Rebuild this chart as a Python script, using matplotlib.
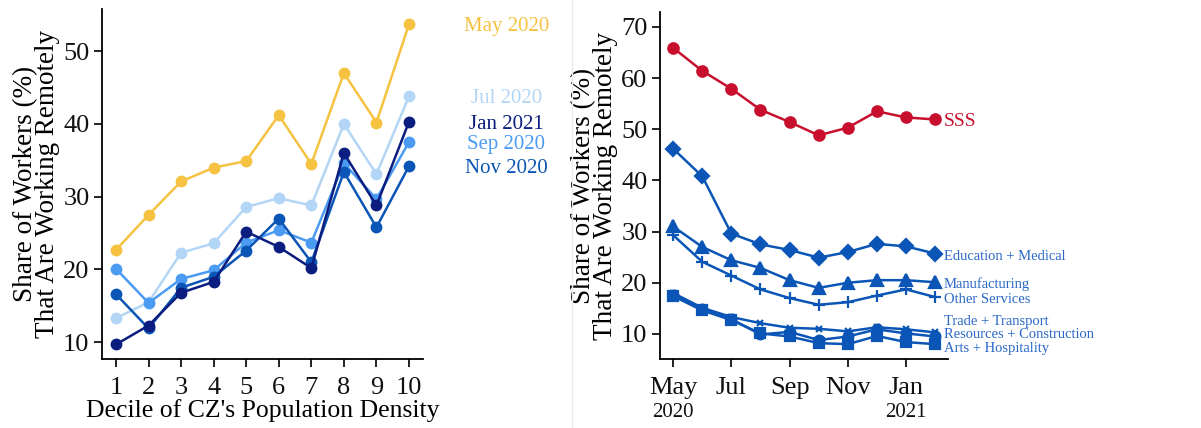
import matplotlib.pyplot as plt
from matplotlib.lines import Line2D
import numpy as np

plt.rcParams['font.family'] = ['Liberation Serif', 'DejaVu Serif']

# left panel: remote share by density decile
deciles = [1, 2, 3, 4, 5, 6, 7, 8, 9, 10]
may_2020 = [22.7, 27.5, 32.1, 34.0, 34.9, 41.2, 34.5, 47.0, 40.2, 53.7]
jul_2020 = [13.3, 15.5, 22.3, 23.6, 28.6, 29.8, 28.8, 40.0, 33.1, 43.8]
sep_2020 = [20.1, 15.4, 18.7, 19.9, 23.7, 25.4, 23.7, 34.6, 29.7, 37.5]
nov_2020 = [16.6, 11.9, 17.5, 19.0, 22.6, 27.0, 21.0, 33.4, 25.8, 34.2]
jan_2021 = [9.7, 12.3, 16.8, 18.3, 25.2, 23.1, 20.2, 36.0, 28.8, 40.3]

# right panel: remote share by industry over time (May 2020 - Feb 2021)
months = [0, 1, 2, 3, 4, 5, 6, 7, 8, 9]
month_ticks = [0, 2, 4, 6, 8]
month_labels = ['May', 'Jul', 'Sep', 'Nov', 'Jan']
sss = [65.9, 61.4, 57.9, 53.8, 51.4, 48.8, 50.3, 53.5, 52.3, 51.9]
edu_med = [46.2, 40.8, 29.6, 27.5, 26.4, 24.9, 26.0, 27.6, 27.1, 25.7]
manuf = [31.0, 27.0, 24.4, 22.9, 20.5, 19.0, 20.0, 20.5, 20.5, 20.1]
other_serv = [29.3, 24.1, 21.4, 18.7, 17.0, 15.7, 16.2, 17.5, 18.7, 17.2]
trade_trans = [18.0, 15.1, 13.3, 12.1, 11.2, 11.0, 10.5, 11.3, 10.9, 10.3]
res_constr = [17.7, 14.9, 12.9, 9.9, 10.4, 8.8, 9.5, 10.9, 10.1, 9.5]
arts_hosp = [17.4, 14.6, 12.7, 10.1, 9.5, 8.2, 8.0, 9.6, 8.4, 8.0]

fig = plt.figure(figsize=(12.01, 4.28), dpi=100)
W, H = 1201, 428

def style(ax):
    for s in ['top', 'right']:
        ax.spines[s].set_visible(False)
    for s in ['left', 'bottom']:
        ax.spines[s].set_linewidth(1.3)
    ax.tick_params(length=6, width=1.3, labelsize=19, colors='#111111')

ylab = 'Share of Workers (%)\nThat Are Working Remotely'

# ---- left
ax1 = fig.add_axes([102 / W, 69 / H, 321 / W, 350 / H])
style(ax1)
left_series = [
    ('May 2020', may_2020, '#f5c242'),
    ('Jul 2020', jul_2020, '#b3d6f6'),
    ('Sep 2020', sep_2020, '#4b9bf2'),
    ('Nov 2020', nov_2020, '#0a55b5'),
    ('Jan 2021', jan_2021, '#0b1d7e'),
]
for name, vals, c in left_series:
    ax1.plot(deciles, vals, '-o', color=c, lw=1.8, ms=7.5, clip_on=False)
    ax1.annotate(name, xy=(deciles[-1], vals[-1]), xytext=(70, 0),
                 textcoords='offset points', ha='center', va='center_baseline',
                 color=c, fontsize=15, annotation_clip=False)
ax1.set_xlim(0.57, 10.43)
ax1.set_ylim(7.7, 55.8)
ax1.set_xticks(deciles)
ax1.set_yticks([10, 20, 30, 40, 50])
ax1.tick_params(axis='x', pad=7)
ax1.tick_params(axis='y', pad=3)
ax1.set_xlabel("Decile of CZ's Population Density", fontsize=18.5, labelpad=0)
ax1.set_ylabel(ylab, fontsize=19.5, labelpad=2, linespacing=0.85)

# faint divider
fig.add_artist(Line2D([572 / W, 572 / W], [0, 1], color='#ececec', lw=1))

# ---- right
ax2 = fig.add_axes([660 / W, 69 / H, 288 / W, 347 / H])
style(ax2)
blue = '#0a55b5'
right_series = [
    ('SSS', sss, '#c8102e', 'o', 7.5, 51.9, 14),
    ('Education + Medical', edu_med, blue, 'D', 7.5, 25.4, 10.5),
    ('Manufacturing', manuf, blue, '^', 8, 20.0, 10.5),
    ('Other Services', other_serv, blue, '+', 8, 17.0, 10.5),
    ('Trade + Transport', trade_trans, blue, 'x', 5, 12.7, 10.5),
    ('Resources + Construction', res_constr, blue, 'o', 7, 10.2, 10.5),
    ('Arts + Hospitality', arts_hosp, blue, 's', 7, 7.5, 10.5),
]
for name, vals, c, m, ms, ly, fs in right_series:
    ax2.plot(months, vals, '-', color=c, lw=1.8, marker=m, ms=ms, mew=1.6,
             clip_on=False)
    ax2.annotate(name, xy=(months[-1], ly), xytext=(6, 0),
                 textcoords='offset points', ha='left', va='center_baseline',
                 color=c if name == 'SSS' else '#2a68c8', fontsize=fs,
                 annotation_clip=False)
ax2.set_xlim(-0.45, 9.44)
ax2.set_ylim(5.1, 72.9)
ax2.set_xticks(month_ticks)
ax2.set_xticklabels(month_labels)
ax2.set_yticks([10, 20, 30, 40, 50, 60, 70])
ax2.tick_params(axis='x', pad=7)
ax2.tick_params(axis='y', pad=3)
ax2.set_ylabel(ylab, fontsize=19.5, labelpad=2, linespacing=0.85)
for xm, yr in [(0, '2020'), (8, '2021')]:
    ax2.text(xm, -0.155, yr, transform=ax2.get_xaxis_transform(),
             ha='center', va='center', fontsize=15, color='#111111')

fig.savefig('out.png', dpi=100)
